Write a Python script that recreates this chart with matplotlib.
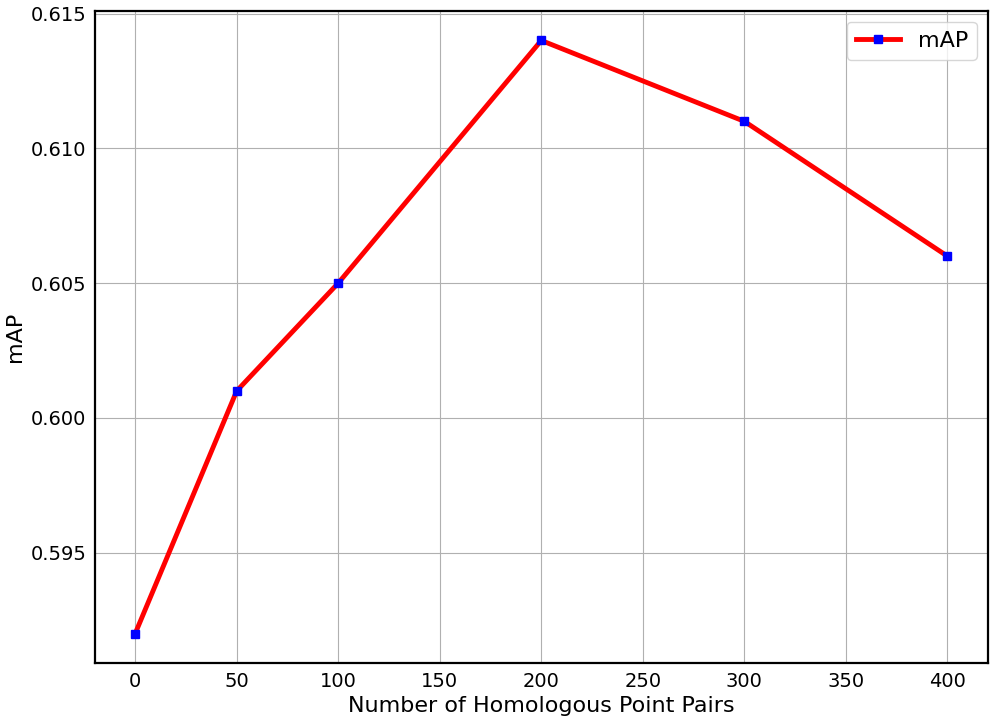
import matplotlib
matplotlib.use('Agg')
import matplotlib.pyplot as plt

# Data
pairs = [0, 50, 100, 200, 300, 400]
map_values = [0.592, 0.601, 0.605, 0.614, 0.611, 0.606]

fig, ax = plt.subplots(figsize=(9.95, 7.21), dpi=100)

ax.plot(pairs, map_values, color='red', linewidth=3.5, marker='s',
        markersize=6, markerfacecolor='blue', markeredgecolor='blue', label='mAP')

ax.grid(True, color='#b0b0b0', linewidth=0.8)
ax.set_axisbelow(True)

ax.set_xlabel('Number of Homologous Point Pairs', fontsize=16)
ax.set_ylabel('mAP', fontsize=16)
ax.tick_params(axis='both', length=0, labelsize=14, pad=6)
ax.set_xticks([0, 50, 100, 150, 200, 250, 300, 350, 400])
ax.set_yticks([0.595, 0.600, 0.605, 0.610, 0.615])

for spine in ax.spines.values():
    spine.set_linewidth(1.6)

ax.legend(fontsize=16, loc='upper right')

fig.subplots_adjust(left=0.095, right=0.993, top=0.985, bottom=0.08)
fig.savefig('out.png')
